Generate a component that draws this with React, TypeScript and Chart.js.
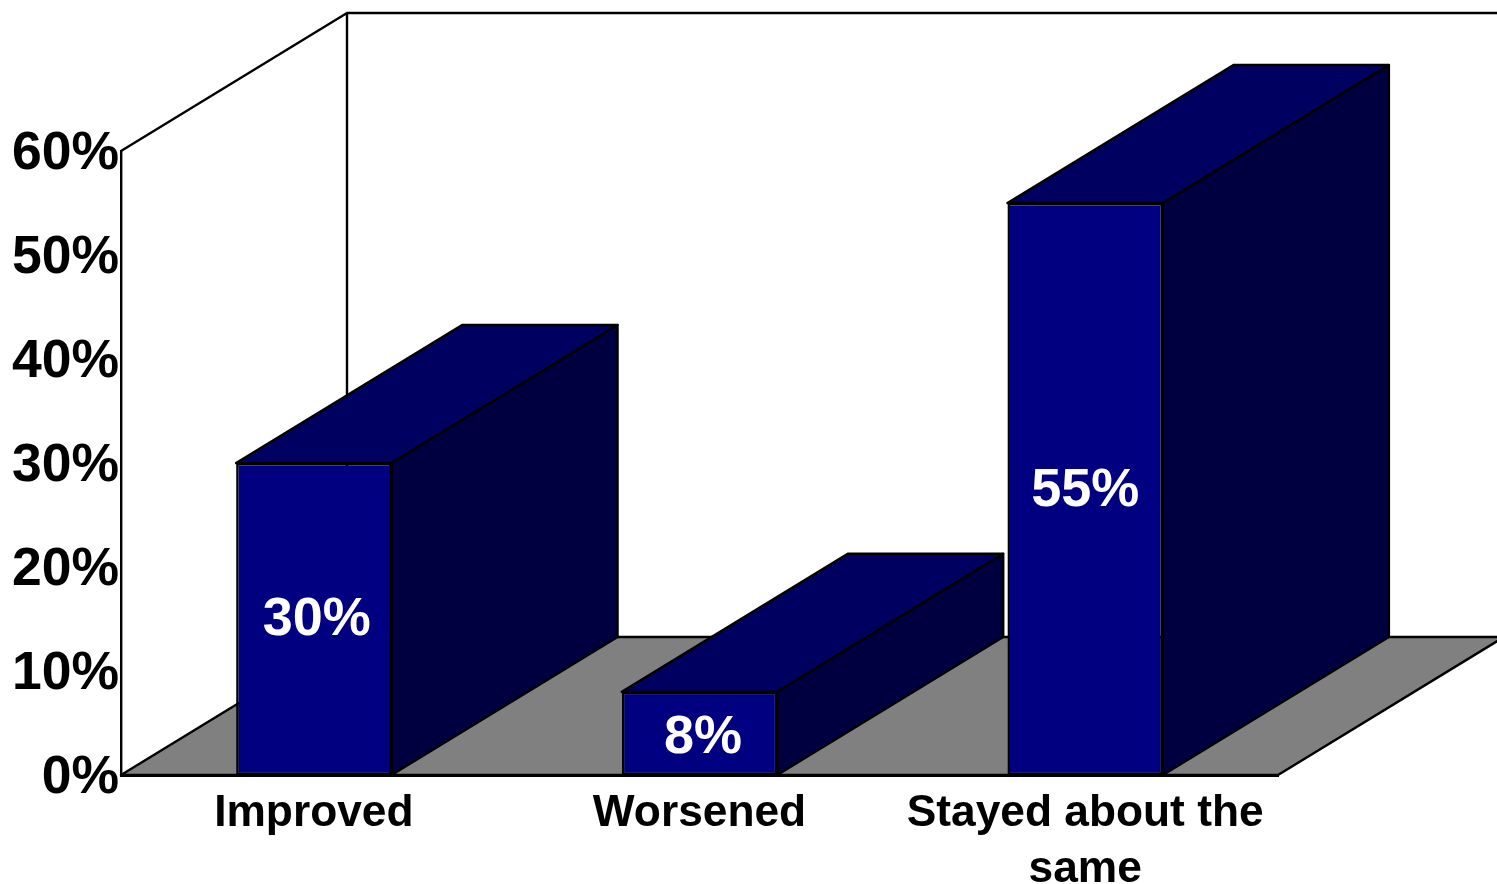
import React, { useEffect, useRef } from "react";
import { Chart, registerables } from "chart.js";

Chart.register(...registerables);

const categories: (string | string[])[] = ["Improved", "Worsened", ["Stayed about the", "same"]];
const percentValues = [30, 8, 55];
const yTickStep = 10;
const yMaximum = 60;

const FONT = '"Liberation Sans", Arial, sans-serif';
const DEPTH_X = 226;
const DEPTH_Y = 138;
const LABEL_SHIFT_X = [3, 3.5, 0];
const LABEL_SHIFT_Y = [1, 5, 2];

function poly(ctx: CanvasRenderingContext2D, pts: number[][], fill: string | null, lw: number) {
  ctx.beginPath();
  pts.forEach((p, i) => (i ? ctx.lineTo(p[0], p[1]) : ctx.moveTo(p[0], p[1])));
  ctx.closePath();
  if (fill) {
    ctx.fillStyle = fill;
    ctx.fill();
  }
  ctx.lineWidth = lw;
  ctx.strokeStyle = "#000";
  ctx.stroke();
}

const box3d = {
  id: "box3d",
  beforeDraw(chart: any) {
    const { ctx, chartArea: a } = chart;
    ctx.save();
    ctx.lineJoin = "round";
    // back walls
    ctx.lineWidth = 2.4;
    ctx.strokeStyle = "#000";
    ctx.beginPath();
    ctx.moveTo(a.left, a.top);
    ctx.lineTo(a.left + DEPTH_X, a.top - DEPTH_Y);
    ctx.lineTo(chart.width + 10, a.top - DEPTH_Y);
    ctx.moveTo(a.left + DEPTH_X, a.top - DEPTH_Y);
    ctx.lineTo(a.left + DEPTH_X, a.bottom - DEPTH_Y);
    ctx.stroke();
    // floor
    poly(
      ctx,
      [
        [a.left, a.bottom],
        [a.right, a.bottom],
        [a.right + DEPTH_X, a.bottom - DEPTH_Y],
        [a.left + DEPTH_X, a.bottom - DEPTH_Y],
      ],
      "#808080",
      2.4
    );
    ctx.restore();
  },
  beforeDatasetsDraw(chart: any) {
    const { ctx } = chart;
    ctx.save();
    ctx.lineJoin = "round";
    chart.getDatasetMeta(0).data.forEach((el: any) => {
      const p = el.getProps(["x", "y", "base", "width"], true);
      const l = p.x - p.width / 2;
      const r = p.x + p.width / 2;
      poly(
        ctx,
        [
          [l, p.y],
          [r, p.y],
          [r + DEPTH_X, p.y - DEPTH_Y],
          [l + DEPTH_X, p.y - DEPTH_Y],
        ],
        "#000060",
        2.4
      );
      poly(
        ctx,
        [
          [r, p.y],
          [r + DEPTH_X, p.y - DEPTH_Y],
          [r + DEPTH_X, p.base - DEPTH_Y],
          [r, p.base],
        ],
        "#000040",
        2.4
      );
    });
    ctx.restore();
  },
  afterDatasetsDraw(chart: any) {
    const { ctx } = chart;
    ctx.save();
    ctx.fillStyle = "#fff";
    ctx.font = `bold 54px ${FONT}`;
    ctx.textAlign = "center";
    ctx.textBaseline = "middle";
    chart.getDatasetMeta(0).data.forEach((el: any, i: number) => {
      const p = el.getProps(["x", "y", "base"], true);
      ctx.fillText(
        `${percentValues[i]}%`,
        p.x + LABEL_SHIFT_X[i],
        (p.y + p.base) / 2 + LABEL_SHIFT_Y[i]
      );
    });
    ctx.restore();
  },
};

export default function App() {
  const ref = useRef<HTMLCanvasElement>(null);
  useEffect(() => {
    const chart = new Chart(ref.current!, {
      type: "bar",
      data: {
        labels: categories as any,
        datasets: [
          {
            data: percentValues,
            backgroundColor: "#000080",
            borderColor: "#000",
            borderWidth: 2.5,
            borderSkipped: false,
            barPercentage: 0.403,
            categoryPercentage: 1,
          },
        ],
      },
      options: {
        responsive: false,
        animation: false,
        devicePixelRatio: 1,
        layout: { padding: { left: 0, right: 219, top: 151, bottom: 0 } },
        plugins: { legend: { display: false }, title: { display: false }, tooltip: { enabled: false } },
        scales: {
          x: {
            grid: { display: false, drawTicks: false },
            border: { display: true, color: "#000", width: 3 },
            afterFit(s: any) {
              s.height = 109;
            },
            ticks: {
              color: "#000",
              maxRotation: 0,
              autoSkip: false,
              padding: 11,
              labelOffset: 0,
              font: { family: FONT, weight: "bold", size: 44.3, lineHeight: 1.26 },
            },
          },
          y: {
            min: 0,
            max: yMaximum,
            grid: { display: false, drawTicks: false },
            border: { display: true, color: "#000", width: 2.4 },
            afterFit(s: any) {
              s.width = 121;
            },
            ticks: {
              stepSize: yTickStep,
              color: "#000",
              padding: 2,
              labelOffset: 3,
              font: { family: FONT, weight: "bold", size: 53.5 },
              callback: (v: any) => `${v}%`,
            },
          },
        },
      },
      plugins: [box3d],
    } as any);
    return () => chart.destroy();
  }, []);
  return (
    <canvas
      ref={ref}
      width={1497}
      height={884}
      style={{ position: "absolute", left: 0, top: 0, display: "block" }}
    />
  );
}
